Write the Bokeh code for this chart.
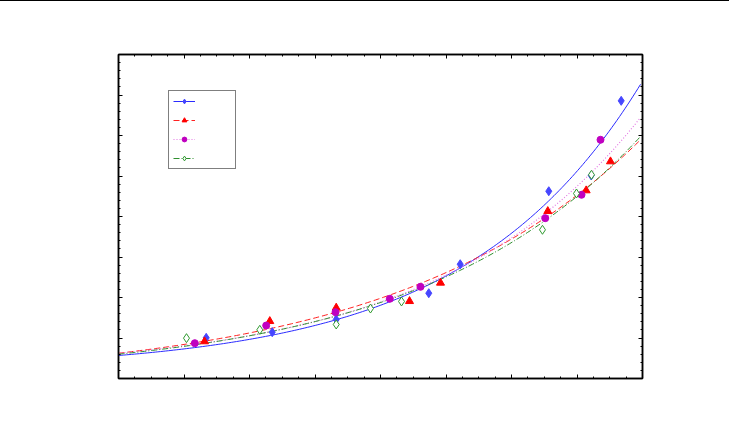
import numpy as np
from bokeh.plotting import figure
from bokeh.layouts import column
from bokeh.models import (Range1d, LinearAxis, FixedTicker, CustomJSTickFormatter,
                          Legend, LegendItem, Div)
from bokeh.embed import file_html
from bokeh.resources import INLINE

# ---- data ----
blue_x = [13.39, 23.47, 33.24, 47.37, 52.17, 65.69, 72.17, 76.75]
blue_y = [5.02, 5.72, 7.28, 10.53, 14.11, 23.12, 25.06, 34.28]

red_x = [13.13, 23.10, 33.24, 44.43, 49.16, 65.54, 71.40, 75.11]
red_y = [4.57, 7.07, 8.73, 9.54, 11.81, 20.65, 23.21, 26.79]

mag_x = [11.65, 22.55, 33.13, 41.42, 46.11, 65.15, 70.69, 73.59]
mag_y = [4.36, 6.54, 8.19, 9.84, 11.32, 19.79, 22.68, 29.47]

grn_x = [10.38, 21.57, 33.24, 38.47, 43.21, 64.73, 69.92, 72.21]
grn_y = [4.98, 6.01, 6.67, 8.64, 9.51, 18.36, 22.84, 25.15]

# fitted curves y = C + A*exp(B*x) (coefficients)
fit_A = [1.79, 3.53, 2.38, 2.83]
fit_B = [0.0374, 0.0268, 0.0324, 0.0295]
fit_C = [1.05, -0.41, 0.74, 0.17]
fit_xmax = 79.7

x_major = list(range(0, 81, 10))
x_minor = [i * 2.5 for i in range(0, 33)]
y_major = list(range(0, 41, 5))
y_minor = list(range(0, 41, 1))

p = figure(width=721, height=420, output_backend="svg", toolbar_location=None,
           x_range=Range1d(0, 80), y_range=Range1d(0, 40),
           min_border_left=118, min_border_right=79, min_border_top=53, min_border_bottom=43,
           x_axis_type=None, y_axis_type=None)
p.grid.visible = False
p.outline_line_color = "black"
p.outline_line_width = 1.5
p.background_fill_color = "white"
p.border_fill_color = "white"

blank = CustomJSTickFormatter(code="return ''")
for side in ["below", "above"]:
    ax = LinearAxis(ticker=FixedTicker(ticks=x_major, minor_ticks=x_minor), formatter=blank)
    p.add_layout(ax, side)
for side in ["left", "right"]:
    ax = LinearAxis(ticker=FixedTicker(ticks=y_major, minor_ticks=y_minor), formatter=blank)
    p.add_layout(ax, side)
for ax in p.axis:
    ax.major_tick_in = 4
    ax.major_tick_out = 0
    ax.minor_tick_in = 2
    ax.minor_tick_out = 0
    ax.axis_line_color = "black"
    ax.axis_line_width = 1.5
    ax.major_tick_line_color = "black"
    ax.minor_tick_line_color = "black"
    ax.major_label_text_font_size = "1px"
    ax.major_label_standoff = 0

xs = np.linspace(0, fit_xmax, 200)
styles = [
    dict(color="#2b2bff", dash="solid", width=1.0),
    dict(color="#ff2020", dash="6 3", width=1.0),
    dict(color="#e377e3", dash="1 2", width=1.2),
    dict(color="#2f8f2f", dash="6 2 1 2", width=1.0),
]
lines = []
for i in range(4):
    ys = fit_C[i] + fit_A[i] * np.exp(fit_B[i] * xs)
    s = styles[i]
    lines.append(p.line(xs, ys, line_color=s["color"], line_dash=s["dash"], line_width=s["width"]))

m1 = p.scatter(blue_x, blue_y, marker="diamond", size=9, fill_color="#4646ff", line_color="#4646ff")
m2 = p.scatter(red_x, red_y, marker="triangle", size=8, fill_color="#ff0000", line_color="#ff0000")
m3 = p.scatter(mag_x, mag_y, marker="circle", size=7, fill_color="#c000c0", line_color="#c000c0")
m4 = p.scatter(grn_x, grn_y, marker="diamond", size=9, fill_color="white", line_color="#2f9a2f", line_width=1)

legend = Legend(items=[
    LegendItem(label=" ", renderers=[lines[0], m1]),
    LegendItem(label=" ", renderers=[lines[1], m2]),
    LegendItem(label=" ", renderers=[lines[2], m3]),
    LegendItem(label=" ", renderers=[lines[3], m4]),
], location=(50, 209), orientation="vertical")
legend.border_line_color = "black"
legend.border_line_width = 1.5
legend.background_fill_color = "white"
legend.background_fill_alpha = 1
legend.glyph_width = 22
legend.glyph_height = 12
legend.spacing = 7
legend.padding = 4
legend.margin = 0
legend.label_standoff = 0
legend.label_width = 36
legend.label_height = 12
legend.label_text_font_size = "6px"
p.add_layout(legend, "center")

topline = Div(text="", width=729, height=1, styles={"background-color": "black"}, margin=(0, 0, 0, 0))
p.margin = (0, 0, 0, 0)
layout = column(topline, p, spacing=0, margin=(0, 0, 0, 0))

open("out.html", "w").write(file_html(layout, INLINE))
